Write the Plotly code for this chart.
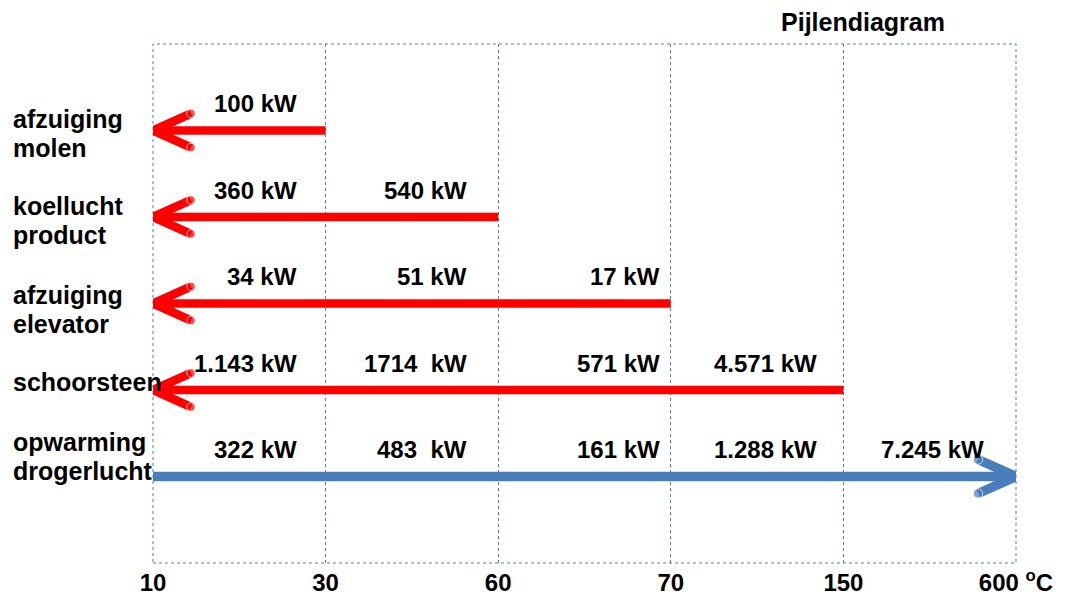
import plotly.graph_objects as go

# ---- data ----
temps = ["10", "30", "60", "70", "150", "600 <sup>o</sup>C"]
rows = ["afzuiging<br>molen", "koellucht<br>product", "afzuiging<br>elevator",
        "schoorsteen", "opwarming<br>drogerlucht"]
arrow_from = [1, 2, 3, 4, 0]       # index into temps where arrow starts
arrow_to = [0, 0, 0, 0, 5]         # index into temps where arrow points
arrow_kind = ["red", "red", "red", "red", "blue"]
kw_labels = [
    ["100 kW"],
    ["360 kW", "540 kW"],
    ["34 kW", "51 kW", "17 kW"],
    ["1.143 kW", "1714\u00a0 kW", "571 kW", "4.571 kW"],
    ["322 kW", "483\u00a0 kW", "161 kW", "1.288 kW", "7.245 kW"],
]
title = "Pijlendiagram"

# ---- style ----
COLORS = {"red": "#FF0000", "blue": "#4A7EBB"}
WIDTHS = {"red": 8.5, "blue": 9.5}
FONT = "Liberation Sans, Arial, sans-serif"
FS_KW = 24
FS_ROW = 25
FS_TICK = 24
OFF = 8  # page body margin
W, H = 1065, 598
PL, PR, PT, PB = 153, 1016, 44, 563  # target plot area (absolute px)
L, R, T, B = PL - OFF, W + OFF - PR, PT - OFF, H + OFF - PB
PW = PR - PL
PX_X = PW / 5.0
PX_Y = (PB - PT) / 6.0
head_dx = 38 / PX_X
head_dy = 17 / PX_Y
label_xshift = [-27, -29, -9, -24, -30]
row_first_line_dy = [-12, -11, -9, -8, -35]  # px below arrow of first text line
ROW_LINE_GAP = 29

n = len(rows)
yvals = [n - i for i in range(n)]  # top row highest

fig = go.Figure()
annotations = []
for i in range(n):
    y = yvals[i]
    c = COLORS[arrow_kind[i]]
    lw = WIDTHS[arrow_kind[i]]
    x0, x1 = arrow_from[i], arrow_to[i]
    fig.add_trace(go.Scatter(x=[x0, x1], y=[y, y], mode="lines",
                             line=dict(color=c, width=lw), hoverinfo="skip",
                             showlegend=False))
    d = head_dx if x1 < x0 else -head_dx
    fig.add_trace(go.Scatter(x=[x1 + d, x1, x1 + d], y=[y + head_dy, y, y - head_dy],
                             mode="lines+markers",
                             line=dict(color=c, width=lw),
                             marker=dict(color=c, size=[lw, 0, lw]),
                             hoverinfo="skip", showlegend=False))
    for j, txt in enumerate(kw_labels[i]):
        annotations.append(dict(x=j + 1, y=y, xref="x", yref="y", text="<b>" + txt + "</b>",
                                showarrow=False, xanchor="right", yanchor="middle",
                                xshift=label_xshift[j], yshift=27,
                                font=dict(family=FONT, size=FS_KW, color="black")))
    for k, line in enumerate(rows[i].split("<br>")):
        annotations.append(dict(x=-(PL - 11) / PW, y=y, xref="paper", yref="y",
                                text="<b>" + line + "</b>", showarrow=False,
                                xanchor="left", yanchor="middle", align="left",
                                yshift=-(row_first_line_dy[i] + k * ROW_LINE_GAP),
                                font=dict(family=FONT, size=FS_ROW, color="black")))

grid_c = "#5B7BAB"
fig.update_layout(
    width=W, height=H,
    margin=dict(l=L, r=R, t=T, b=B, autoexpand=False),
    plot_bgcolor="white", paper_bgcolor="white",
    title=dict(text="<b>" + title + "</b>", x=(863 - PL) / PW, xref="paper",
               xanchor="center", y=1 - (22 - OFF) / H, yanchor="middle",
               font=dict(family=FONT, size=FS_ROW, color="black")),
    xaxis=dict(range=[0, 5], tickvals=list(range(len(temps))),
               ticktext=["<b>" + t + "</b>" for t in temps],
               showgrid=True, gridcolor=grid_c, griddash="dot", gridwidth=1,
               zeroline=False, showline=False, ticks="", automargin=False,
               tickfont=dict(family=FONT, size=FS_TICK, color="black"),
               ticklabelstandoff=3),
    yaxis=dict(range=[0, 6], showgrid=False, zeroline=False, showticklabels=False,
               ticks="", automargin=False),
    annotations=annotations,
    shapes=[dict(type="rect", xref="paper", yref="paper", x0=0, x1=1, y0=0, y1=1,
                 line=dict(color=grid_c, width=1, dash="dot"), layer="below")],
)

fig.write_html("out.html")
